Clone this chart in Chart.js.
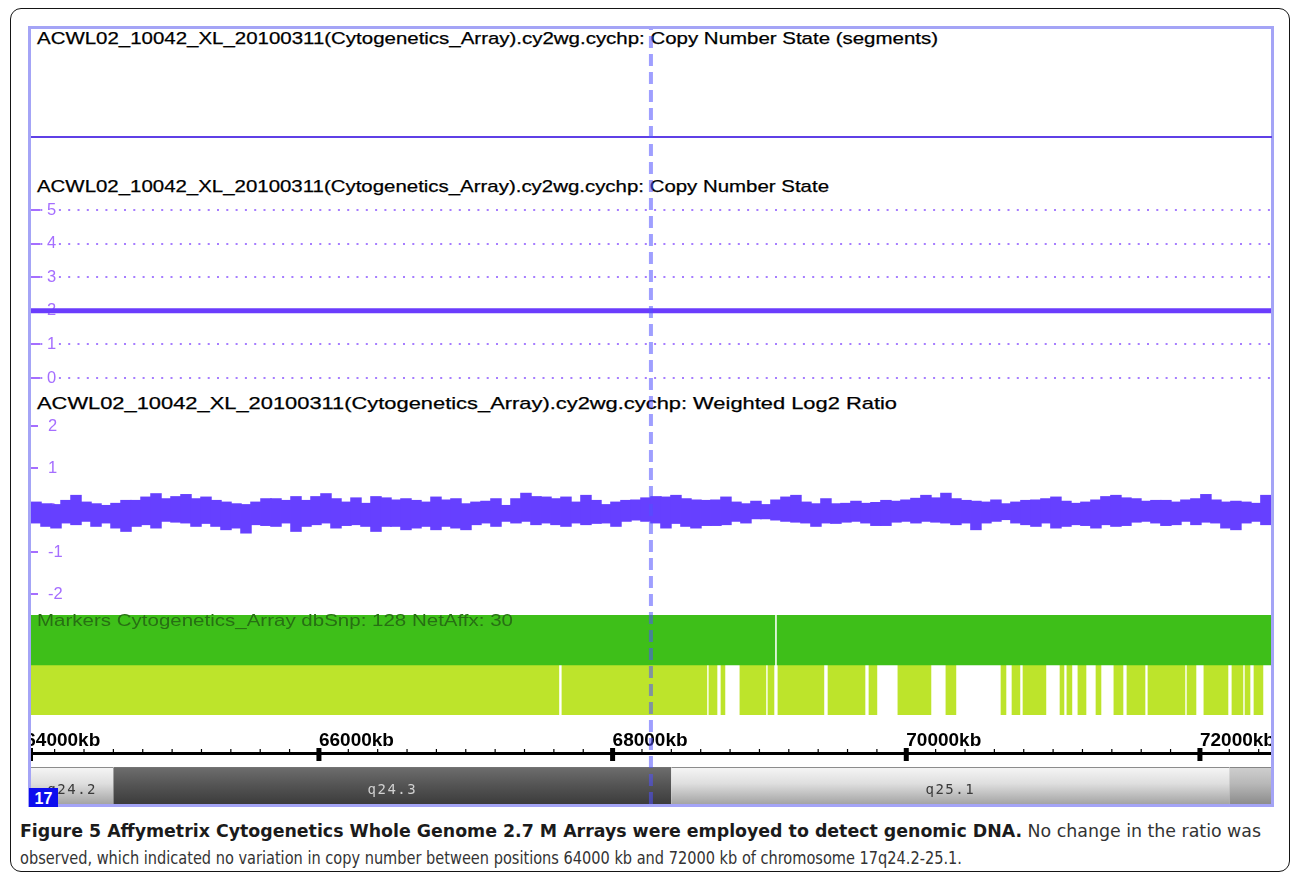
<!DOCTYPE html>
<html><head><meta charset="utf-8">
<script src="https://cdn.jsdelivr.net/npm/chart.js@4.4.1/dist/chart.umd.min.js"></script>
<style>
html,body{margin:0;padding:0;background:#fff;}
body{width:1290px;height:878px;overflow:hidden;position:relative;font-family:"Liberation Sans",Arial,sans-serif;}
.abs{position:absolute;}
canvas{position:absolute;display:block;}
.frame{left:10px;top:8px;width:1280px;height:864px;border:1.6px solid #151515;border-radius:11px;box-sizing:border-box;}
.panel{left:28px;top:26px;width:1246px;height:781px;border:3px solid #a4a4f6;box-sizing:border-box;}
.sep{left:31px;top:136px;width:1241px;height:1.6px;background:#5f40e6;}
.title{left:37px;font-size:17px;line-height:1;color:#000;white-space:nowrap;transform-origin:0 50%;-webkit-text-stroke:0.25px #000;}
.mk{left:37px;top:612px;font-size:16.5px;line-height:1;color:#286f14;white-space:nowrap;transform-origin:0 50%;}
.chr{left:29px;top:788px;width:29px;height:19px;background:#0d0dee;color:#fff;font:bold 16px "Liberation Sans",Arial,sans-serif;line-height:21px;text-align:center;z-index:5;}
.cap{left:20px;font-family:"Liberation Sans Narrow","DejaVu Sans Condensed","Liberation Sans",sans-serif;font-size:17px;line-height:1;white-space:nowrap;color:#333;transform-origin:0 50%;}
.cap b{color:#1b1b1b;}
</style></head>
<body>
<div class="abs frame"></div>
<div class="abs panel"></div>
<div class="abs sep"></div>
<div class="abs title" style="top:30px" data-w="901">ACWL02_10042_XL_20100311(Cytogenetics_Array).cy2wg.cychp: Copy Number State (segments)</div>
<div class="abs title" style="top:178px" data-w="792">ACWL02_10042_XL_20100311(Cytogenetics_Array).cy2wg.cychp: Copy Number State</div>
<div class="abs title" style="top:395px" data-w="860">ACWL02_10042_XL_20100311(Cytogenetics_Array).cy2wg.cychp: Weighted Log2 Ratio</div>

<canvas id="cn" width="1240" height="202" style="left:31px;top:193px"></canvas>
<canvas id="ratio" width="1240" height="196" style="left:31px;top:412px"></canvas>
<canvas id="markers" width="1240" height="100" style="left:31px;top:615px"></canvas>
<div class="abs mk" data-w="476">Markers Cytogenetics_Array dbSnp: 128 NetAffx: 30</div>
<canvas id="ruler" width="1240" height="41" style="left:31px;top:726px"></canvas>
<canvas id="ideo" width="1240" height="37" style="left:31px;top:767px"></canvas>
<div class="abs chr">17</div>
<canvas id="cursor" width="1240" height="775" style="left:31px;top:29px;z-index:4;pointer-events:none"></canvas>

<div class="abs cap" style="top:822.5px" data-w="1241"><b>Figure 5 Affymetrix Cytogenetics Whole Genome 2.7 M Arrays were employed to detect genomic DNA.</b> No change in the ratio was</div>
<div class="abs cap" style="top:849.5px" data-w="942">observed, which indicated no variation in copy number between positions 64000 kb and 72000 kb of chromosome 17q24.2-25.1.</div>

<script>
// ---------------- data ----------------
const X_MIN = 64039, X_MAX = 72484;           // visible window, kb

// Copy Number State track
const cnTicks = [5, 4, 3, 2, 1, 0];
const cnSegStart = [64000];
const cnSegEnd = [72500];
const cnSegValue = [2];

// Weighted Log2 Ratio track (binned envelope, one bin ~68.1 kb)
const ratioTicks = [2, 1, 0, -1, -2];
const ratioBinStartKb = 64039, ratioBinKb = 68.1;
const ratioHigh = [0.20,0.16,0.14,0.24,0.36,0.20,0.16,0.12,0.17,0.24, 0.24,0.32,0.40,0.28,0.33,0.38,0.28,0.32,0.24,0.20,
  0.16,0.14,0.20,0.28,0.28,0.24,0.33,0.24,0.33,0.40, 0.28,0.20,0.30,0.17,0.33,0.30,0.25,0.28,0.24,0.20, 0.32,0.25,
  0.28,0.16,0.20,0.22,0.28,0.12,0.28,0.41,0.33,0.32, 0.28,0.32,0.20,0.36,0.24,0.14,0.20,0.24,0.25,0.30,
  0.33,0.32,0.36,0.28,0.25,0.24,0.25,0.32,0.20,0.16, 0.22,0.14,0.25,0.32,0.36,0.20,0.16,0.28,0.16,0.17,
  0.22,0.17,0.19,0.24,0.22,0.25,0.29,0.36,0.30,0.41, 0.28,0.24,0.22,0.20,0.25,0.16,0.20,0.24,0.25,0.28,
  0.32,0.22,0.17,0.20,0.25,0.33,0.36,0.30,0.28,0.22, 0.24,0.24,0.20,0.25,0.28,0.38,0.25,0.20,0.22,0.20, 0.17,0.36];
const ratioLow = [-0.32,-0.40,-0.44,-0.32,-0.36,-0.28,-0.40,-0.32,-0.44,-0.52, -0.40,-0.36,-0.44,-0.28,-0.30,-0.32,-0.40,-0.33,-0.40,-0.48,
  -0.44,-0.56,-0.36,-0.38,-0.40,-0.32,-0.52,-0.40,-0.36,-0.32, -0.44,-0.38,-0.36,-0.40,-0.52,-0.40,-0.40,-0.48,-0.44,-0.40, -0.48,-0.40,
  -0.44,-0.48,-0.36,-0.32,-0.40,-0.28,-0.32,-0.28,-0.36,-0.32, -0.36,-0.40,-0.32,-0.36,-0.33,-0.32,-0.40,-0.28,-0.25,-0.28,
  -0.32,-0.44,-0.33,-0.40,-0.44,-0.38,-0.38,-0.36,-0.28,-0.32, -0.22,-0.22,-0.25,-0.28,-0.30,-0.32,-0.40,-0.32,-0.33,-0.30,
  -0.28,-0.32,-0.38,-0.38,-0.30,-0.28,-0.32,-0.28,-0.30,-0.32, -0.36,-0.32,-0.48,-0.32,-0.28,-0.24,-0.32,-0.36,-0.40,-0.32,
  -0.44,-0.40,-0.36,-0.38,-0.44,-0.36,-0.40,-0.38,-0.30,-0.28, -0.32,-0.38,-0.36,-0.28,-0.36,-0.30,-0.32,-0.44,-0.48,-0.32, -0.28,-0.36];
const ratioX = ratioHigh.map((_, i) => ratioBinStartKb + ratioBinKb * (i + 0.5));

// Markers track
const markerRows = ['dbSnp', 'NetAffx'];
const dbSnpStart = [64000, 69120];
const dbSnpEnd   = [69105, 72500];
const netAffxStart = [64000,67655,68656,68738,68867,69058,69126,69467,69746,69943,70270,70645,70720,70795,71047,71094,71169,71292,71414,71503,71646,71912,72027,72218,72307,72368];
const netAffxEnd   = [67634,68642,68711,68765,69044,69099,69439,69719,69800,70168,70338,70679,70774,70951,71074,71128,71224,71326,71476,71626,71898,71973,72191,72293,72341,72429];

// Ruler
const rulerMajor = [64000, 66000, 68000, 70000, 72000];
const rulerTicks = [];
for (let v = 64000; v <= 72400; v += 200) rulerTicks.push(v);

// Ideogram (chr17)
const bandNames = ['q24.2', 'q24.3', 'q25.1', 'q25.2'];
const bandStart = [62600, 64600, 68400, 72200];
const bandEnd   = [64600, 68400, 72200, 72900];
const bandStain = ['gneg', 'gpos75', 'gneg', 'gpos25'];

// Cursor
const cursorKb = [68261];

// ---------------- styles ----------------
Chart.defaults.font.family = '"Liberation Sans", Arial, sans-serif';
const LAV = '#a56eff';
const DOT = '#a67dff';
const base = {responsive:false, animation:false, events:[], devicePixelRatio:1,
  layout:{padding:0}, plugins:{legend:{display:false}, tooltip:{enabled:false}}};
const kbAxis = () => ({type:'linear', min:X_MIN, max:X_MAX, display:false, bounds:'data', offset:false});
const zeroFit = s => { s.width = 0; s.paddingTop = 0; s.paddingBottom = 0; s.paddingLeft = 0; s.paddingRight = 0; };
const rulerFit = s => { s.height = 27; s.paddingTop = 0; s.paddingBottom = 0; s.paddingLeft = 0; s.paddingRight = 0; };

const tickMarks = {
  id: 'tickMarks',
  beforeDatasetsDraw(chart, args, o) {
    const s = chart.scales.y, c = chart.ctx;
    c.save(); c.strokeStyle = o.color; c.lineWidth = o.width;
    s.ticks.forEach(t => {
      const y = Math.round(s.getPixelForValue(t.value));
      c.beginPath(); c.moveTo(0, y); c.lineTo(o.len, y); c.stroke();
    });
    c.restore();
  }
};

// ---------------- Copy number state ----------------
new Chart(document.getElementById('cn'), {
  type: 'line',
  data: {datasets: [{
    data: cnSegStart.flatMap((s, i) => [{x: s, y: cnSegValue[i]}, {x: cnSegEnd[i], y: cnSegValue[i]}]),
    borderColor: '#6a3cfd', borderWidth: 5, pointRadius: 0, tension: 0
  }]},
  options: {...base,
    plugins: {...base.plugins, tickMarks: {len: 9, color: LAV, width: 2}},
    scales: {
      x: kbAxis(),
      y: {type: 'linear', min: -0.506, max: 5.506,
        afterBuildTicks: s => { s.ticks = cnTicks.map(v => ({value: v})); },
        afterFit: zeroFit,
        ticks: {mirror: true, padding: 16, color: LAV, font: {size: 16.5},
          showLabelBackdrop: true, backdropColor: '#fff', backdropPadding: {top: 0, bottom: 0, left: 1, right: 2}},
        grid: {color: DOT, lineWidth: 2, drawTicks: false},
        border: {display: false, dash: [2, 7.3]}
      }
    }
  },
  plugins: [tickMarks]
});

// ---------------- Weighted log2 ratio ----------------
new Chart(document.getElementById('ratio'), {
  type: 'bar',
  data: {datasets: [{
    data: ratioX.map((x, i) => ({x: x, y: [ratioLow[i], ratioHigh[i]]})),
    backgroundColor: '#6640ff', borderWidth: 0, barPercentage: 1.15, categoryPercentage: 1
  }]},
  options: {...base,
    plugins: {...base.plugins, tickMarks: {len: 7, color: LAV, width: 2}},
    scales: {
      x: kbAxis(),
      y: {type: 'linear', min: -2.3333, max: 2.3333,
        afterBuildTicks: s => { s.ticks = ratioTicks.map(v => ({value: v})); },
        afterFit: zeroFit,
        ticks: {mirror: true, padding: 17, color: LAV, font: {size: 16.5}},
        grid: {display: false, drawTicks: false},
        border: {display: false}
      }
    }
  },
  plugins: [tickMarks]
});

// ---------------- Markers ----------------
new Chart(document.getElementById('markers'), {
  type: 'bar',
  data: {labels: markerRows, datasets: [
    {data: dbSnpStart.map((s, i) => ({x: [s, dbSnpEnd[i]], y: markerRows[0]})),
     backgroundColor: '#3ebf19', grouped: false, barPercentage: 1, categoryPercentage: 1, borderWidth: 0},
    {data: netAffxStart.map((s, i) => ({x: [s, netAffxEnd[i]], y: markerRows[1]})),
     backgroundColor: '#bde42b', grouped: false, barPercentage: 1, categoryPercentage: 1, borderWidth: 0}
  ]},
  options: {...base, indexAxis: 'y',
    scales: {x: kbAxis(), y: {type: 'category', display: false}}}
});

// ---------------- Ruler ----------------
const rulerPlugin = {
  id: 'rulerMarks',
  afterDraw(chart) {
    const s = chart.scales.x, c = chart.ctx, y0 = chart.chartArea.top;
    c.save(); c.fillStyle = '#000';
    c.fillRect(0, y0 - 1, chart.width, 3);
    c.fillRect(0, y0 - 5, 2, 13);
    s.ticks.forEach(t => {
      const x = s.getPixelForValue(t.value);
      if (rulerMajor.includes(t.value)) c.fillRect(x - 2.5, y0 - 5, 5, 13);
      else c.fillRect(x - 0.6, y0 - 4, 1.2, 4);
    });
    c.restore();
  }
};
new Chart(document.getElementById('ruler'), {
  type: 'scatter',
  data: {datasets: []},
  options: {...base,
    scales: {
      x: {type: 'linear', position: 'top', min: X_MIN, max: X_MAX, bounds: 'data',
        afterBuildTicks: s => { s.ticks = rulerTicks.map(v => ({value: v})); },
        afterFit: rulerFit,
        ticks: {autoSkip: false, maxRotation: 0, minRotation: 0, align: 'start', padding: 3, color: '#000',
          font: {size: 19, weight: 'bold', lineHeight: 1},
          callback: v => rulerMajor.includes(v) ? v + 'kb' : ''},
        grid: {display: false, drawTicks: false},
        border: {display: false}
      },
      y: {display: false}
    }
  },
  plugins: [rulerPlugin]
});

// ---------------- Ideogram ----------------
const stainStops = {
  gneg:   [[0, '#a8a8a8'], [0.04, '#f4f4f4'], [0.45, '#dedede'], [1, '#a4a4a4']],
  gpos25: [[0, '#909090'], [0.04, '#cdcdcd'], [0.45, '#b8b8b8'], [1, '#8c8c8c']],
  gpos75: [[0, '#5a5a5a'], [0.04, '#6c6c6c'], [0.45, '#565656'], [1, '#3c3c3c']]
};
const bandFill = ctx => {
  const ch = ctx.chart, a = ch.chartArea;
  if (!a) return '#ccc';
  const g = ch.ctx.createLinearGradient(0, a.top, 0, a.bottom);
  stainStops[bandStain[ctx.dataIndex]].forEach(([o, col]) => g.addColorStop(o, col));
  return g;
};
const bandLabels = {
  id: 'bandLabels',
  afterDatasetsDraw(chart) {
    const meta = chart.getDatasetMeta(0), a = chart.chartArea, c = chart.ctx;
    c.save();
    c.font = '14px "DejaVu Sans Mono", monospace';
    try { c.letterSpacing = '1.5px'; } catch (e) {}
    c.textAlign = 'center'; c.textBaseline = 'middle';
    meta.data.forEach((bar, i) => {
      const p = bar.getProps(['x', 'base'], true);
      const l = Math.max(Math.min(p.x, p.base), a.left), r = Math.min(Math.max(p.x, p.base), a.right);
      if (r - l < 60) return;
      c.fillStyle = bandStain[i] === 'gpos75' ? '#d0d0d0' : '#3a3a3a';
      c.fillText(bandNames[i], (l + r) / 2, 23);
    });
    c.restore();
  }
};
new Chart(document.getElementById('ideo'), {
  type: 'bar',
  data: {labels: ['chr17'], datasets: [{
    data: bandStart.map((s, i) => ({x: [s, bandEnd[i]], y: 'chr17'})),
    backgroundColor: bandFill, borderColor: '#7a7a7a', borderSkipped: false,
    borderWidth: {top: 1, bottom: 0, left: 0, right: 0},
    barPercentage: 1, categoryPercentage: 1
  }]},
  options: {...base, indexAxis: 'y',
    scales: {x: kbAxis(), y: {type: 'category', display: false}}},
  plugins: [bandLabels]
});

// ---------------- Cursor ----------------
new Chart(document.getElementById('cursor'), {
  type: 'line',
  data: {datasets: [{
    data: cursorKb.flatMap(k => [{x: k, y: 0}, {x: k, y: 1}]),
    borderColor: 'rgba(80,80,255,0.55)', borderWidth: 4, borderDash: [12, 6], pointRadius: 0
  }]},
  options: {...base, scales: {x: kbAxis(), y: {type: 'linear', min: 0, max: 1, display: false}}}
});

// ---------------- fit text widths ----------------
function fitTexts() {
  document.querySelectorAll('[data-w]').forEach(el => {
    el.style.transform = 'none';
    const w = el.getBoundingClientRect().width;
    if (w > 0) el.style.transform = 'scaleX(' + (parseFloat(el.dataset.w) / w) + ')';
  });
}
fitTexts();
if (document.fonts && document.fonts.ready) document.fonts.ready.then(fitTexts);
</script>
</body></html>
